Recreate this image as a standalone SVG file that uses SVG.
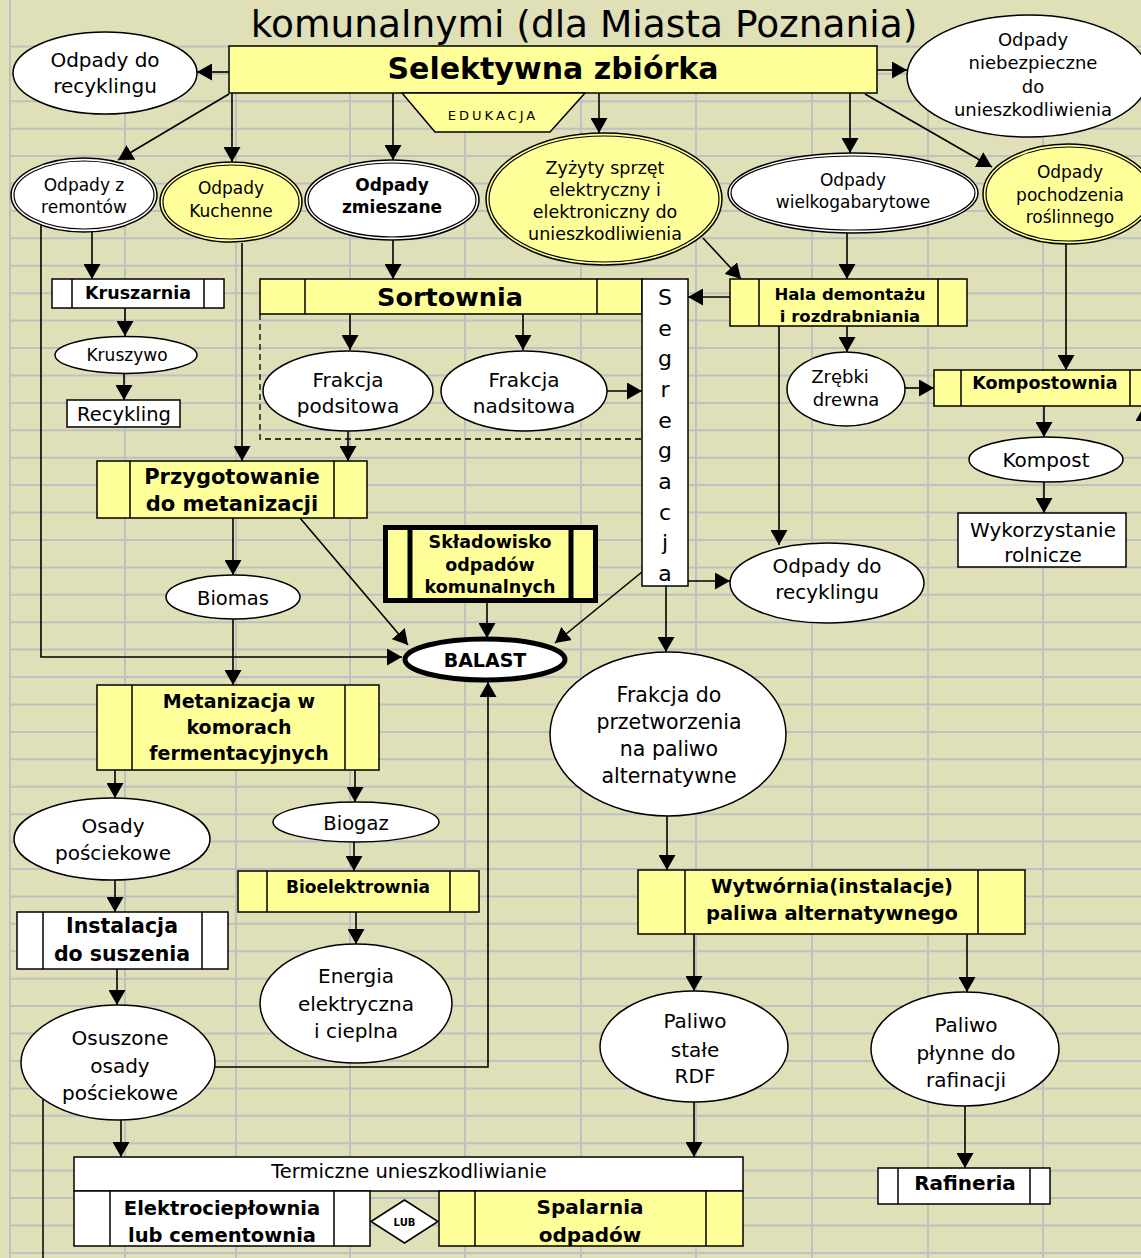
<svg xmlns="http://www.w3.org/2000/svg" width="1141" height="1258" viewBox="0 0 1141 1258">
<defs>
<marker id="a" markerUnits="userSpaceOnUse" viewBox="0 0 15 17" refX="15" refY="8.5" markerWidth="15" markerHeight="17" orient="auto"><path d="M0,0 L15,8.5 L0,17 z" fill="#000"/></marker>
<style>
.g{stroke:#C0C0C0;stroke-width:2}
.w{fill:#fff;stroke:#000;stroke-width:1.5}
.y{fill:#FFFF99;stroke:#000;stroke-width:1.5}
.l{stroke:#000;stroke-width:1.5}
.c{stroke:#000;stroke-width:1.6;fill:none;marker-end:url(#a)}
text{font-family:"DejaVu Sans",Verdana,sans-serif;text-anchor:middle;fill:#000}
.b{font-weight:bold}
</style>
</defs>
<rect x="0" y="0" width="1141" height="1258" fill="#DFDFB8"/>
<g id="grid">
<line class="g" x1="10" y1="0" x2="10" y2="1258"/>
<path class="g" fill="none" d="M125,46V1258M236,46V1258M350,46V1258M465,46V1258M581,46V1258M696,46V1258M812,46V1258M928,46V1258M1043,46V1258"/>
<path class="g" fill="none" d="M10,46.4H1141M10,73.8H1141M10,101.2H1141M10,128.7H1141M10,156.1H1141M10,183.5H1141M10,210.9H1141M10,238.3H1141M10,265.8H1141M10,293.2H1141M10,320.6H1141M10,348H1141M10,375.4H1141M10,402.9H1141M10,430.3H1141M10,457.7H1141M10,485.1H1141M10,512.5H1141M10,540H1141M10,567.4H1141M10,594.8H1141M10,622.2H1141M10,649.6H1141M10,677.1H1141M10,704.5H1141M10,731.9H1141M10,759.3H1141M10,786.7H1141M10,814.2H1141M10,841.6H1141M10,869H1141M10,896.4H1141M10,923.8H1141M10,951.3H1141M10,978.7H1141M10,1006.1H1141M10,1033.5H1141M10,1060.9H1141M10,1088.4H1141M10,1115.8H1141M10,1143.2H1141M10,1170.6H1141M10,1198H1141M10,1225.5H1141M10,1252.9H1141"/>
</g>
<text x="584" y="37" font-size="37.5">komunalnymi (dla Miasta Poznania)</text>

<g id="connectors">
<line class="c" x1="229" y1="72" x2="197" y2="72"/>
<line class="c" x1="877" y1="70" x2="907" y2="70"/>
<line class="c" x1="229" y1="94" x2="118" y2="160"/>
<line class="c" x1="232" y1="93" x2="232" y2="162"/>
<line class="c" x1="393" y1="93" x2="393" y2="160"/>
<line class="c" x1="599" y1="93" x2="599" y2="133"/>
<line class="c" x1="850" y1="93" x2="850" y2="153"/>
<line class="c" x1="865" y1="94" x2="992" y2="167"/>
<line class="c" x1="92" y1="231" x2="92" y2="279"/>
<line class="c" x1="125" y1="308" x2="125" y2="336"/>
<line class="c" x1="124" y1="373" x2="124" y2="400"/>
<path class="c" d="M41,225V657H402"/>
<line class="c" x1="242" y1="243" x2="242" y2="461"/>
<line class="c" x1="393" y1="240" x2="393" y2="279"/>
<line class="c" x1="350" y1="314" x2="350" y2="350"/>
<line class="c" x1="523" y1="314" x2="523" y2="350"/>
<line class="c" x1="607" y1="391" x2="642" y2="391"/>
<line class="c" x1="348" y1="431" x2="348" y2="461"/>
<line class="c" x1="703" y1="238" x2="741" y2="279"/>
<line class="c" x1="847" y1="233" x2="847" y2="279"/>
<line class="c" x1="730" y1="297" x2="688" y2="297"/>
<line class="c" x1="847" y1="326" x2="847" y2="352"/>
<line class="c" x1="779" y1="326" x2="779" y2="545"/>
<line class="c" x1="1066" y1="244" x2="1066" y2="370"/>
<line class="c" x1="905" y1="388" x2="934" y2="388"/>
<line class="c" x1="1044" y1="406" x2="1044" y2="437"/>
<line class="c" x1="1044" y1="482" x2="1044" y2="513"/>
<line class="c" x1="1144" y1="440" x2="1144" y2="406"/>
<line class="c" x1="233" y1="518" x2="233" y2="575"/>
<line class="c" x1="300" y1="518" x2="408" y2="645"/>
<line class="c" x1="233" y1="619" x2="233" y2="685"/>
<line class="c" x1="487" y1="603" x2="487" y2="638"/>
<line class="c" x1="642" y1="572" x2="555" y2="643"/>
<line class="c" x1="688" y1="581" x2="730" y2="581"/>
<line class="c" x1="666" y1="586" x2="666" y2="652"/>
<line class="c" x1="115" y1="770" x2="115" y2="798"/>
<line class="c" x1="355" y1="770" x2="355" y2="802"/>
<line class="c" x1="115" y1="880" x2="115" y2="912"/>
<line class="c" x1="354" y1="842" x2="354" y2="871"/>
<line class="c" x1="117" y1="969" x2="117" y2="1005"/>
<line class="c" x1="356" y1="912" x2="356" y2="944"/>
<path class="c" d="M215,1067H488V682"/>
<line class="c" x1="121" y1="1120" x2="121" y2="1157"/>
<line class="l" x1="43" y1="1099" x2="43" y2="1258"/>
<line class="c" x1="667" y1="816" x2="667" y2="870"/>
<line class="c" x1="694" y1="934" x2="694" y2="991"/>
<line class="c" x1="967" y1="934" x2="967" y2="992"/>
<line class="c" x1="694" y1="1102" x2="694" y2="1157"/>
<line class="c" x1="965" y1="1106" x2="965" y2="1168"/>
<path d="M260,314V439H642" fill="none" stroke="#000" stroke-width="1.3" stroke-dasharray="6,4"/>
</g>

<g id="selektywna"><rect class="y" x="229" y="46" width="648" height="47"/><text class="b" x="553" y="79" font-size="30">Selektywna zbiórka</text></g>
<g id="edukacja"><polygon class="y" points="402,93 585,93 550,132 435,132"/><text x="493" y="120" font-size="13" letter-spacing="3">EDUKACJA</text></g>
<g id="recykling-top"><ellipse class="w" cx="105" cy="73" rx="92" ry="41"/><text x="105" y="67" font-size="20">Odpady do</text><text x="105" y="93" font-size="20">recyklingu</text></g>
<g id="niebezpieczne"><ellipse class="w" cx="1028" cy="76" rx="121" ry="61"/><text x="1033" y="46" font-size="18">Odpady</text><text x="1033" y="69" font-size="18">niebezpieczne</text><text x="1033" y="93" font-size="18">do</text><text x="1033" y="116" font-size="18">unieszkodliwienia</text></g>

<g id="remontow"><ellipse class="w" cx="84" cy="195" rx="73" ry="37"/><ellipse cx="84" cy="195" rx="70" ry="34" fill="none" stroke="#000" stroke-width="1.2"/><text x="84" y="191" font-size="17">Odpady z</text><text x="84" y="213" font-size="17">remontów</text></g>
<g id="kuchenne"><ellipse class="y" cx="231" cy="202" rx="71" ry="40"/><ellipse cx="231" cy="202" rx="68" ry="37" fill="none" stroke="#000" stroke-width="1.2"/><text x="231" y="194" font-size="17">Odpady</text><text x="231" y="217" font-size="17">Kuchenne</text></g>
<g id="zmieszane"><ellipse class="w" cx="392" cy="200" rx="87" ry="40"/><ellipse cx="392" cy="200" rx="84" ry="37" fill="none" stroke="#000" stroke-width="1.2"/><text class="b" x="392" y="191" font-size="17">Odpady</text><text class="b" x="392" y="213" font-size="17">zmieszane</text></g>
<g id="zuzyty"><ellipse class="y" cx="604" cy="199" rx="118" ry="66"/><ellipse cx="604" cy="199" rx="115" ry="63" fill="none" stroke="#000" stroke-width="1.2"/><text x="605" y="174" font-size="17.5">Zyżyty sprzęt</text><text x="605" y="196" font-size="17.5">elektryczny i</text><text x="605" y="218" font-size="17.5">elektroniczny do</text><text x="605" y="240" font-size="17.5">unieszkodliwienia</text></g>
<g id="wielkogabarytowe"><ellipse class="w" cx="853" cy="193" rx="125" ry="40"/><ellipse cx="853" cy="193" rx="122" ry="37" fill="none" stroke="#000" stroke-width="1.2"/><text x="853" y="186" font-size="17">Odpady</text><text x="853" y="208" font-size="17">wielkogabarytowe</text></g>
<g id="roslinnego"><ellipse class="y" cx="1068" cy="194" rx="85" ry="50"/><ellipse cx="1068" cy="194" rx="82" ry="47" fill="none" stroke="#000" stroke-width="1.2"/><text x="1070" y="178" font-size="17">Odpady</text><text x="1070" y="201" font-size="17">pochodzenia</text><text x="1070" y="223" font-size="17">roślinnego</text></g>

<g id="kruszarnia"><rect class="w" x="52" y="279" width="172" height="29"/><path class="l" d="M72,279V308M204,279V308"/><text class="b" x="138" y="299" font-size="17.5">Kruszarnia</text></g>
<g id="kruszywo"><ellipse class="w" cx="126" cy="355" rx="71" ry="18.5"/><text x="127" y="361" font-size="17">Kruszywo</text></g>
<g id="recykling"><rect class="w" x="67" y="400" width="113" height="27"/><text x="124" y="421" font-size="19.5">Recykling</text></g>
<g id="sortownia"><rect class="y" x="260" y="279" width="382" height="35"/><path class="l" d="M305,279V314M597,279V314"/><text class="b" x="450" y="306" font-size="25.5">Sortownia</text></g>
<g id="segregacja"><rect class="w" x="642" y="279" width="46" height="307"/><g font-size="22"><text x="665" y="305">S</text><text x="665" y="336">e</text><text x="665" y="366">g</text><text x="665" y="397">r</text><text x="665" y="428">e</text><text x="665" y="458">g</text><text x="665" y="489">a</text><text x="665" y="520">c</text><text x="665" y="550">j</text><text x="665" y="581">a</text></g></g>
<g id="hala"><rect class="y" x="730" y="279" width="237" height="47"/><path class="l" d="M759,279V326M938,279V326"/><text class="b" x="850" y="300" font-size="16.5">Hala demontażu</text><text class="b" x="850" y="322" font-size="16.5">i rozdrabniania</text></g>
<g id="podsitowa"><ellipse class="w" cx="348" cy="391" rx="85" ry="40"/><text x="348" y="387" font-size="20">Frakcja</text><text x="348" y="413" font-size="20">podsitowa</text></g>
<g id="nadsitowa"><ellipse class="w" cx="524" cy="391" rx="83" ry="40"/><text x="524" y="387" font-size="20">Frakcja</text><text x="524" y="413" font-size="20">nadsitowa</text></g>
<g id="przygotowanie"><rect class="y" x="97" y="461" width="270" height="57"/><path class="l" d="M130,461V518M334,461V518"/><text class="b" x="232" y="484" font-size="21">Przygotowanie</text><text class="b" x="232" y="511" font-size="21">do metanizacji</text></g>
<g id="zrebki"><ellipse class="w" cx="846" cy="389" rx="59" ry="37"/><text x="840" y="383" font-size="18">Zrębki</text><text x="846" y="406" font-size="18">drewna</text></g>
<g id="kompostownia"><rect class="y" x="934" y="370" width="220" height="36"/><path class="l" d="M961,370V406M1130,370V406"/><text class="b" x="1045" y="389" font-size="17.5">Kompostownia</text></g>
<g id="kompost"><ellipse class="w" cx="1046" cy="459.5" rx="77" ry="22.5"/><text x="1046" y="467" font-size="20">Kompost</text></g>
<g id="wykorzystanie"><rect class="w" x="958" y="513" width="168" height="54"/><text x="1043" y="537" font-size="20">Wykorzystanie</text><text x="1043" y="562" font-size="20">rolnicze</text></g>
<g id="skladowisko"><rect x="385.5" y="527.5" width="210" height="73" fill="#FFFF99" stroke="#000" stroke-width="5"/><path d="M410,527V601M571,527V601" stroke="#000" stroke-width="5"/><text class="b" x="490" y="548" font-size="17.5">Składowisko</text><text class="b" x="490" y="571" font-size="17.5">odpadów</text><text class="b" x="490" y="593" font-size="17.5">komunalnych</text></g>
<g id="balast"><ellipse cx="485" cy="659.5" rx="80" ry="20.5" fill="#fff" stroke="#000" stroke-width="5"/><text class="b" x="485" y="666.5" font-size="19">BALAST</text></g>
<g id="recykling-right"><ellipse class="w" cx="827" cy="583" rx="97" ry="40"/><text x="827" y="573" font-size="20">Odpady do</text><text x="827" y="599" font-size="20">recyklingu</text></g>
<g id="biomas"><ellipse class="w" cx="233" cy="597" rx="67" ry="22"/><text x="233" y="605" font-size="19.5">Biomas</text></g>
<g id="metanizacja"><rect class="y" x="97" y="685" width="282" height="85"/><path class="l" d="M132,685V770M345,685V770"/><text class="b" x="239" y="708" font-size="19">Metanizacja w</text><text class="b" x="239" y="734" font-size="19">komorach</text><text class="b" x="239" y="760" font-size="19">fermentacyjnych</text></g>
<g id="frakcja-do"><ellipse class="w" cx="668" cy="734" rx="118" ry="82"/><text x="669" y="702" font-size="20.5">Frakcja do</text><text x="669" y="729" font-size="20.5">przetworzenia</text><text x="669" y="756" font-size="20.5">na paliwo</text><text x="669" y="783" font-size="20.5">alternatywne</text></g>
<g id="osady"><ellipse class="w" cx="112" cy="839" rx="98" ry="41"/><text x="113" y="833" font-size="20">Osady</text><text x="113" y="860" font-size="20">pościekowe</text></g>
<g id="biogaz"><ellipse class="w" cx="356" cy="822" rx="83" ry="20"/><text x="356" y="830" font-size="19.5">Biogaz</text></g>
<g id="instalacja"><rect class="w" x="17" y="912" width="211" height="57"/><path class="l" d="M43,912V969M202,912V969"/><text class="b" x="122" y="933" font-size="20.5">Instalacja</text><text class="b" x="122" y="961" font-size="20.5">do suszenia</text></g>
<g id="bioelektrownia"><rect class="y" x="238" y="871" width="241" height="41"/><path class="l" d="M267,871V912M450,871V912"/><text class="b" x="358" y="893" font-size="17">Bioelektrownia</text></g>
<g id="energia"><ellipse class="w" cx="356" cy="1003.5" rx="96" ry="59.5"/><text x="356" y="983" font-size="20">Energia</text><text x="356" y="1011" font-size="20">elektryczna</text><text x="356" y="1038" font-size="20">i cieplna</text></g>
<g id="osuszone"><ellipse class="w" cx="118" cy="1062.5" rx="97" ry="57.5"/><text x="120" y="1045" font-size="20">Osuszone</text><text x="120" y="1073" font-size="20">osady</text><text x="120" y="1100" font-size="20">pościekowe</text></g>
<g id="wytwornia"><rect class="y" x="638" y="870" width="387" height="64"/><path class="l" d="M685,870V934M978,870V934"/><text class="b" x="832" y="893" font-size="19.5">Wytwórnia(instalacje)</text><text class="b" x="832" y="920" font-size="19.5">paliwa alternatywnego</text></g>
<g id="paliwo-stale"><ellipse class="w" cx="694" cy="1046.5" rx="94" ry="55.5"/><text x="695" y="1028" font-size="20">Paliwo</text><text x="695" y="1057" font-size="20">stałe</text><text x="695" y="1083" font-size="20">RDF</text></g>
<g id="paliwo-plynne"><ellipse class="w" cx="965" cy="1049" rx="94" ry="57"/><text x="966" y="1032" font-size="20">Paliwo</text><text x="966" y="1060" font-size="20">płynne do</text><text x="966" y="1087" font-size="20">rafinacji</text></g>
<g id="rafineria"><rect class="w" x="878" y="1168" width="172" height="36"/><path class="l" d="M898,1168V1204M1030,1168V1204"/><text class="b" x="965" y="1190" font-size="20">Rafineria</text></g>
<g id="termiczne"><rect class="w" x="74" y="1157" width="669" height="34"/><text x="409" y="1178" font-size="19.5">Termiczne unieszkodliwianie</text></g>
<g id="elektrocieplownia"><rect class="w" x="74" y="1191" width="296" height="55"/><path class="l" d="M110,1191V1246M334,1191V1246"/><text class="b" x="222" y="1215" font-size="19.5">Elektrociepłownia</text><text class="b" x="222" y="1242" font-size="19.5">lub cementownia</text></g>
<g id="lub"><polygon class="w" points="371,1221.5 404.5,1200 438,1221.5 404.5,1243"/><text class="b" x="404.5" y="1225.5" font-size="10">LUB</text></g>
<g id="spalarnia"><rect class="y" x="439" y="1191" width="304" height="55"/><path class="l" d="M475,1191V1246M706,1191V1246"/><text class="b" x="590" y="1214" font-size="20">Spalarnia</text><text class="b" x="590" y="1242" font-size="20">odpadów</text></g>
</svg>
